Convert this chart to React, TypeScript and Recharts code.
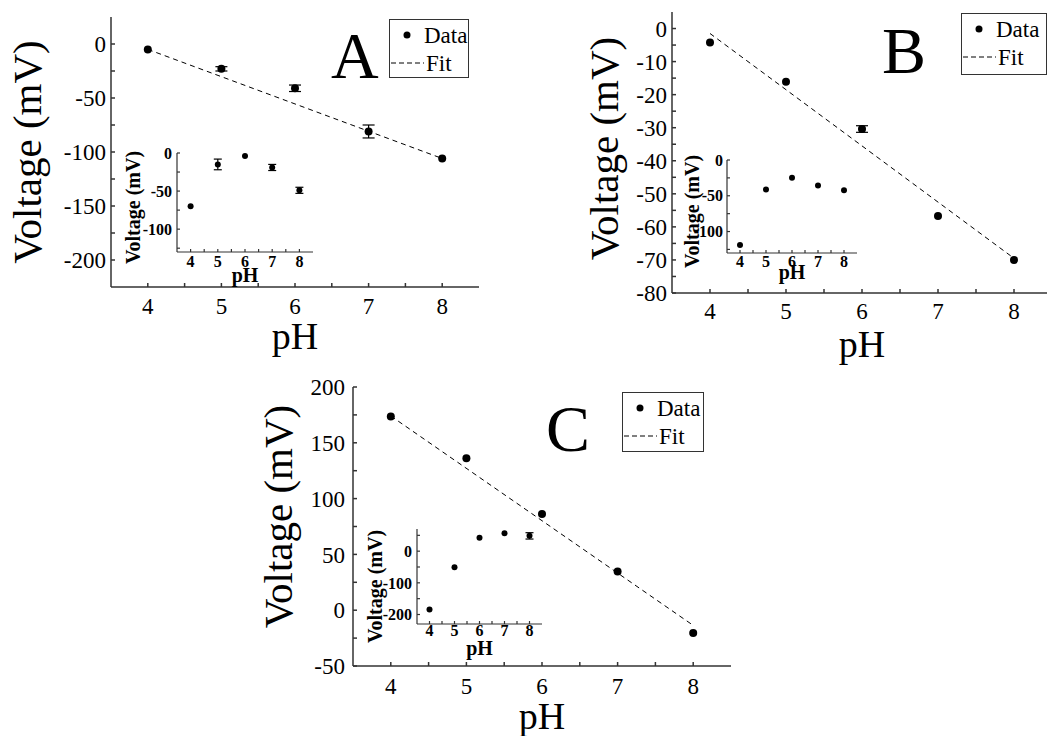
import React from 'react';
import { ComposedChart, Scatter, Line, XAxis, YAxis, ErrorBar, Legend } from 'recharts';

const SERIF = '"Liberation Serif", "Times New Roman", serif';

// shared x values
const PH = [4, 5, 6, 7, 8];
const FIT_PH = [4, 8];
const X_MINOR = [4.5, 5.5, 6.5, 7.5];

// panel A
const A_VOLT = [-5, -23, -41, -81, -106];
const A_ERR = [0, 2, 3, 6, 0];
const A_FIT = [-5, -106];
const A_TICKS = [-200, -150, -100, -50, 0];
const A_MINOR = [-175, -125, -75, -25];
const A_IN_VOLT = [-70, -15, -4, -19, -49];
const A_IN_ERR = [0, 7, 0, 4, 4];
const A_IN_TICKS = [-100, -50, 0];
const A_IN_MINOR = [-125, -75, -25];

// panel B
const B_VOLT = [-4.2, -16.1, -30.4, -56.7, -70];
const B_ERR = [0, 0, 1, 0, 0];
const B_FIT = [-1.5, -69.5];
const B_TICKS = [-80, -70, -60, -50, -40, -30, -20, -10, 0];
const B_MINOR = [-75, -65, -55, -45, -35, -25, -15, -5];
const B_IN_VOLT = [-118.7, -41.3, -24.9, -35.7, -42.3];
const B_IN_ERR = [0, 0, 0, 0, 0];
const B_IN_TICKS = [-100, -50, 0];
const B_IN_MINOR = [-125, -75, -25];

// panel C
const C_VOLT = [173.6, 136.2, 86.2, 34.7, -20.4];
const C_ERR = [0, 0, 0, 0, 0];
const C_FIT = [174, -13.6];
const C_TICKS = [-50, 0, 50, 100, 150, 200];
const C_MINOR = [-25, 25, 75, 125, 175];
const C_IN_VOLT = [-184, -50.5, 42, 56.8, 48.3];
const C_IN_ERR = [0, 0, 0, 0, 10];
const C_IN_TICKS = [-200, -100, 0];
const C_IN_MINOR = [-150, -50, 50];

const toPts = (v: number[], e: number[]) => PH.map((ph, i) => ({ ph, v: v[i], err: e[i] }));
const toFit = (v: number[]) => FIT_PH.map((ph, i) => ({ ph, v: v[i] }));

interface PlotCfg {
  left: number;
  top: number;
  w: number;
  h: number;
  yw: number;
  mt: number;
  mr: number;
  xh: number;
  yDomain: [number, number];
  yTicks: number[];
  yMinor: number[];
  pts: { ph: number; v: number; err: number }[];
  fit?: { ph: number; v: number }[];
  inset: boolean;
  xTickMargin: number;
  yTickMargin: number;
  yLabel: { dx: number; dy: number };
  xLabel: { dy: number };
  legend?: { left: number; top: number; w: number; h: number };
}

function renderLegend(box: { w: number; h: number }) {
  return (props: any) => {
    const items = props.payload || [];
    return (
      <div
        style={{
          width: box.w,
          height: box.h,
          boxSizing: 'border-box',
          border: '1.5px solid #333',
          background: '#fff',
          fontFamily: SERIF,
          fontSize: 23,
          paddingTop: 1,
        }}
      >
        {items.map((it: any) => (
          <div key={it.value} style={{ height: 28, display: 'flex', alignItems: 'center' }}>
            {it.type === 'circle' ? (
              <svg width={34} height={10}>
                <circle cx={17} cy={5} r={3.5} fill="#000" />
              </svg>
            ) : (
              <svg width={36} height={10}>
                <line x1={1} y1={5} x2={34} y2={5} stroke="#000" strokeWidth={1} strokeDasharray="5 3" />
              </svg>
            )}
            <span style={{ lineHeight: 1 }}>{it.value}</span>
          </div>
        ))}
      </div>
    );
  };
}

function Plot({ cfg }: { cfg: PlotCfg }) {
  const c = cfg;
  const frame = { stroke: '#333', strokeWidth: c.inset ? 1.2 : 1.5 };
  const tickLen = c.inset ? -3 : -4;
  const tickFont = c.inset
    ? { fontSize: 16, fontWeight: 700, fill: '#000', fontFamily: SERIF }
    : { fontSize: 23, fill: '#000', fontFamily: SERIF };
  const labelFont = c.inset
    ? { fontSize: 20, fontWeight: 700, fill: '#000', fontFamily: SERIF }
    : { fontSize: 41, fill: '#000', fontFamily: SERIF };
  const pHFont = c.inset
    ? { fontSize: 20, fontWeight: 700, fill: '#000', fontFamily: SERIF }
    : { fontSize: 38, fill: '#000', fontFamily: SERIF };
  const xTicks = [...PH, ...X_MINOR].sort((a, b) => a - b);
  const yTicks = [...c.yTicks, ...c.yMinor].sort((a, b) => a - b);
  const xFmt = (v: number) => (PH.includes(v) ? String(v) : '');
  const yFmt = (v: number) => (c.yTicks.includes(v) ? String(v) : '');
  const r = c.inset ? 3 : 4;

  return (
    <div style={{ position: 'absolute', left: c.left, top: c.top }}>
      <ComposedChart width={c.w} height={c.h} margin={{ top: c.mt, right: c.mr, left: 0, bottom: 0 }}>
        <XAxis
          xAxisId="b"
          type="number"
          dataKey="ph"
          domain={[3.5, 8.5]}
          ticks={xTicks}
          interval={0}
          height={c.xh}
          tickSize={tickLen}
          tickMargin={c.xTickMargin}
          tickFormatter={xFmt}
          tick={tickFont}
          axisLine={frame}
          tickLine={frame}
          allowDataOverflow
          label={{ value: 'pH', position: 'center', dy: c.xLabel.dy, ...pHFont }}
        />
        <XAxis
          xAxisId="t"
          orientation="top"
          type="number"
          dataKey="ph"
          domain={[3.5, 8.5]}
          ticks={xTicks}
          interval={0}
          height={0}
          tickSize={tickLen}
          tickFormatter={() => ''}
          axisLine={frame}
          tickLine={frame}
          allowDataOverflow
        />
        <YAxis
          yAxisId="l"
          type="number"
          dataKey="v"
          domain={c.yDomain}
          ticks={yTicks}
          interval={0}
          width={c.yw}
          tickSize={tickLen}
          tickMargin={c.yTickMargin}
          tickFormatter={yFmt}
          tick={tickFont}
          axisLine={frame}
          tickLine={frame}
          allowDataOverflow
          label={{
            value: 'Voltage (mV)',
            angle: -90,
            position: 'center',
            dx: c.yLabel.dx,
            dy: c.yLabel.dy,
            ...labelFont,
          }}
        />
        <YAxis
          yAxisId="r"
          orientation="right"
          type="number"
          dataKey="v"
          domain={c.yDomain}
          ticks={yTicks}
          interval={0}
          width={0}
          tickSize={tickLen}
          tickFormatter={() => ''}
          axisLine={frame}
          tickLine={frame}
          allowDataOverflow
        />
        <Scatter
          name="Data"
          xAxisId="b"
          yAxisId="l"
          data={c.pts}
          dataKey="v"
          legendType="circle"
          isAnimationActive={false}
          shape={(p: any) => <circle cx={p.cx} cy={p.cy} r={r} fill="#000" />}
        >
          <ErrorBar dataKey="err" direction="y" width={c.inset ? 4 : 6} stroke="#000" strokeWidth={1.2} />
        </Scatter>
        {c.fit && (
          <Line
            name="Fit"
            xAxisId="b"
            yAxisId="l"
            data={c.fit}
            dataKey="v"
            type="linear"
            stroke="#000"
            strokeWidth={1}
            strokeDasharray="5 4"
            dot={false}
            activeDot={false}
            legendType="line"
            isAnimationActive={false}
          />
        )}
        {c.legend && (
          <Legend
            layout="horizontal"
            verticalAlign="middle"
            align="center"
            content={renderLegend(c.legend)}
            wrapperStyle={{ left: c.legend.left, top: c.legend.top, width: c.legend.w, height: c.legend.h, bottom: 'auto', right: 'auto' }}
          />
        )}
      </ComposedChart>
    </div>
  );
}

const mainA: PlotCfg = {
  left: 0, top: 0, w: 490, h: 365, yw: 111, mt: 17, mr: 11, xh: 78,
  yDomain: [-225, 25], yTicks: A_TICKS, yMinor: A_MINOR,
  pts: toPts(A_VOLT, A_ERR), fit: toFit(A_FIT), inset: false,
  xTickMargin: 15, yTickMargin: 9, yLabel: { dx: -29, dy: 0 }, xLabel: { dy: 10 },
  legend: { left: 389, top: 19, w: 80, h: 59 },
};
const insetA: PlotCfg = {
  left: 110, top: 140, w: 210, h: 150, yw: 67, mt: 13, mr: 7, xh: 38,
  yDomain: [-130, 0], yTicks: A_IN_TICKS, yMinor: A_IN_MINOR,
  pts: toPts(A_IN_VOLT, A_IN_ERR), inset: true,
  xTickMargin: 7, yTickMargin: 8, yLabel: { dx: -11, dy: 5 }, xLabel: { dy: 4 },
};
const mainB: PlotCfg = {
  left: 560, top: 0, w: 503, h: 372, yw: 112, mt: 12, mr: 11, xh: 79,
  yDomain: [-80, 5], yTicks: B_TICKS, yMinor: B_MINOR,
  pts: toPts(B_VOLT, B_ERR), fit: toFit(B_FIT), inset: false,
  xTickMargin: 14, yTickMargin: 9, yLabel: { dx: -13, dy: -4 }, xLabel: { dy: 11 },
  legend: { left: 401, top: 13, w: 86, h: 62 },
};
const insetB: PlotCfg = {
  left: 660, top: 148, w: 205, h: 145, yw: 67, mt: 12, mr: 8, xh: 40,
  yDomain: [-130, 0], yTicks: B_IN_TICKS, yMinor: B_IN_MINOR,
  pts: toPts(B_IN_VOLT, B_IN_ERR), inset: true,
  xTickMargin: 6, yTickMargin: 7, yLabel: { dx: -2, dy: 5 }, xLabel: { dy: -1 },
};
const mainC: PlotCfg = {
  left: 240, top: 370, w: 502, h: 366, yw: 113, mt: 17, mr: 11, xh: 70,
  yDomain: [-50, 200], yTicks: C_TICKS, yMinor: C_MINOR,
  pts: toPts(C_VOLT, C_ERR), fit: toFit(C_FIT), inset: false,
  xTickMargin: 16, yTickMargin: 12, yLabel: { dx: -19, dy: -10 }, xLabel: { dy: 15 },
  legend: { left: 382, top: 22, w: 82, h: 60 },
};
const insetC: PlotCfg = {
  left: 350, top: 517, w: 200, h: 155, yw: 67, mt: 12, mr: 8, xh: 48,
  yDomain: [-230, 70], yTicks: C_IN_TICKS, yMinor: C_IN_MINOR,
  pts: toPts(C_IN_VOLT, C_IN_ERR), inset: true,
  xTickMargin: 4, yTickMargin: 8, yLabel: { dx: -9, dy: 10 }, xLabel: { dy: 0 },
};

const letterStyle: React.CSSProperties = {
  position: 'absolute',
  fontFamily: SERIF,
  fontSize: 66,
  lineHeight: 1,
  color: '#000',
};

export default function App() {
  return (
    <div
      style={{
        position: 'fixed',
        left: 0,
        top: 0,
        width: 1047,
        height: 736,
        overflow: 'hidden',
        background: '#fff',
      }}
    >
      <Plot cfg={mainA} />
      <Plot cfg={mainB} />
      <Plot cfg={mainC} />
      <div style={{ ...letterStyle, left: 331, top: 23 }}>A</div>
      <div style={{ ...letterStyle, left: 882, top: 18 }}>B</div>
      <div style={{ ...letterStyle, left: 546, top: 396 }}>C</div>
      <Plot cfg={insetA} />
      <Plot cfg={insetB} />
      <Plot cfg={insetC} />
    </div>
  );
}
